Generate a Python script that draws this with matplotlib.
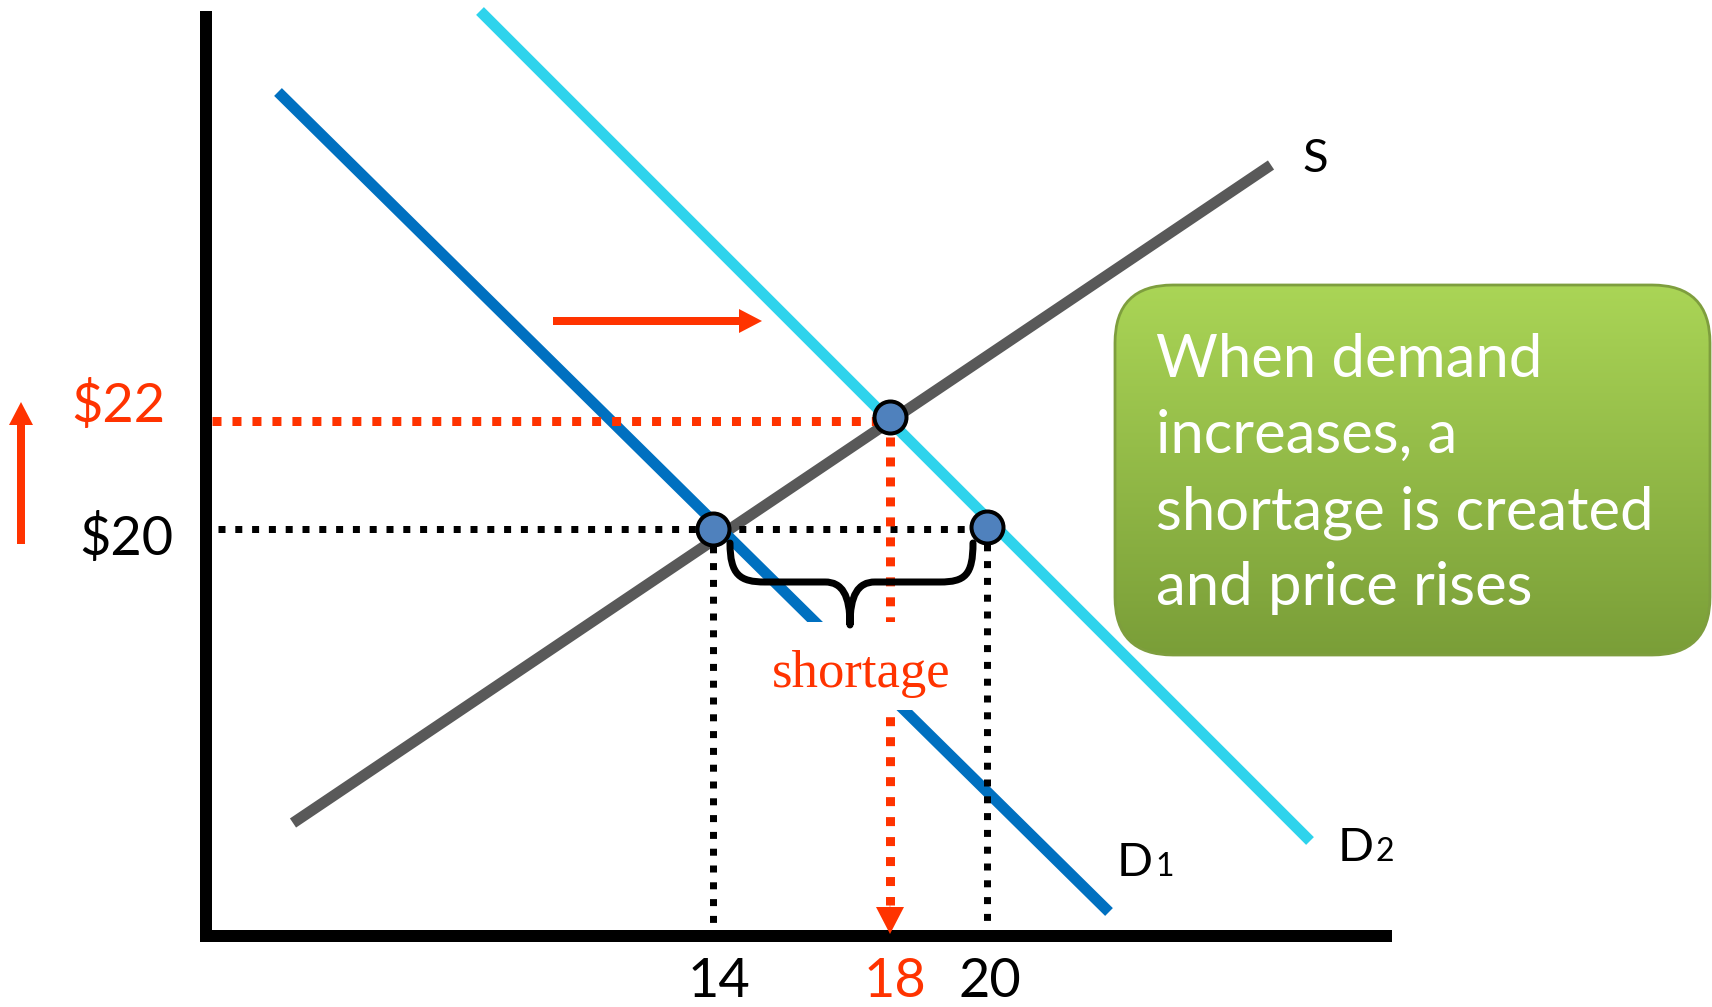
import matplotlib
matplotlib.use('Agg')
import numpy as np
import matplotlib.pyplot as plt
from matplotlib.patches import FancyBboxPatch, Rectangle, PathPatch
from matplotlib.path import Path

# everything is laid out in slide pixels (1712 x 1007, y downwards)
red = '#FF3300'
colors = {'S': '#595959', 'D1': '#0070C0', 'D2': '#2ED3EC'}

# curves: end points
s_x = [293, 1271]
s_y = [823, 165]
d1_x = [278, 1109]
d1_y = [92, 912]
d2_x = [480, 1310]
d2_y = [11, 841]

# equilibrium / quantity points
pt_x = [713, 890, 987]
pt_y = [529, 417, 527]

q_labels = ['14', '18', '20']
q_label_x = [719, 895, 990]
p_labels = ['$22', '$20']
p_label_x = [118, 126]
p_label_y = [422, 555]

note_lines = ['When demand', 'increases, a', 'shortage is created', 'and price rises']

FONT = ['Lato', 'DejaVu Sans']
plt.rcParams['font.family'] = FONT

fig = plt.figure(figsize=(17.12, 10.07), dpi=100)
ax = fig.add_axes([0, 0, 1, 1])
ax.set_xlim(0, 1712)
ax.set_ylim(1007, 0)
ax.axis('off')

px = 0.72  # points per pixel

# axes of the diagram
ax.plot([206, 206], [11, 942], color='black', lw=12 * px, solid_capstyle='butt', zorder=3)
ax.plot([200, 1392], [936, 936], color='black', lw=12 * px, solid_capstyle='butt', zorder=3)

# supply and demand curves
ax.plot(s_x, s_y, color=colors['S'], lw=11 * px, solid_capstyle='butt', zorder=2)
ax.plot(d1_x, d1_y, color=colors['D1'], lw=11 * px, solid_capstyle='butt', zorder=2)
ax.plot(d2_x, d2_y, color=colors['D2'], lw=11 * px, solid_capstyle='butt', zorder=2)

# dotted guides
blk = dict(color='black', lw=7 * px, linestyle=(0, (1, 1.4)), dash_capstyle='butt', zorder=4)
ax.plot([218, pt_x[2]], [pt_y[0], pt_y[0]], **blk)
ax.plot([pt_x[0], pt_x[0]], [pt_y[0], 930], **blk)
ax.plot([pt_x[2], pt_x[2]], [pt_y[2], 930], **blk)
rd = dict(color=red, lw=9 * px, linestyle=(0, (1, 1.22)), dash_capstyle='butt', zorder=4)
ax.plot([212, pt_x[1]], [421, 421], **rd)
ax.plot([pt_x[1], pt_x[1]], [pt_y[1], 905], **rd)
ax.arrow(pt_x[1], 900, 0, 34, width=0.5, head_width=28, head_length=27,
         length_includes_head=True, color=red, lw=0, zorder=5)

# shift arrows
ax.arrow(553, 321, 209, 0, width=8, head_width=24, head_length=23,
         length_includes_head=True, color=red, lw=0, zorder=5)
ax.arrow(21, 544, 0, -142, width=8, head_width=24, head_length=23,
         length_includes_head=True, color=red, lw=0, zorder=5)

# brace over the shortage
verts = [(730, 543), (730, 575), (740, 582), (765, 582),
         (825, 582),
         (842, 582), (850, 595), (850, 625),
         (850, 595), (858, 582), (875, 582),
         (940, 582),
         (965, 582), (973, 575), (973, 543)]
codes = [Path.MOVETO, Path.CURVE4, Path.CURVE4, Path.CURVE4,
         Path.LINETO,
         Path.CURVE4, Path.CURVE4, Path.CURVE4,
         Path.CURVE4, Path.CURVE4, Path.CURVE4,
         Path.LINETO,
         Path.CURVE4, Path.CURVE4, Path.CURVE4]
ax.add_patch(PathPatch(Path(verts, codes), facecolor='none', edgecolor='black',
                       lw=7 * px, capstyle='round', joinstyle='round', zorder=5))

ax.add_patch(Rectangle((768, 622), 187, 88, facecolor='white', edgecolor='none', zorder=4.5))
ax.text(861, 687, 'shortage', color=red, fontsize=38, family=['Liberation Serif', 'DejaVu Serif'],
        ha='center', va='baseline', zorder=6)

# points
ax.scatter(pt_x, pt_y, s=(32 * px) ** 2, color='#4F81BD', edgecolor='black',
           linewidth=4 * px, zorder=7)

# labels
for lab, x in zip(q_labels, q_label_x):
    ax.text(x, 997, lab, fontsize=39, ha='center', va='baseline',
            color=red if lab == '18' else 'black')
for lab, x, y in zip(p_labels, p_label_x, p_label_y):
    ax.text(x, y, lab, fontsize=39, ha='center', va='baseline',
            color=red if lab == '$22' else 'black')
ax.text(1315, 172, 'S', fontsize=34, ha='center', va='baseline')
ax.text(1153, 876, 'D', fontsize=34, ha='right', va='baseline')
ax.text(1155, 876, '1', fontsize=23, ha='left', va='baseline')
ax.text(1374, 861, 'D', fontsize=34, ha='right', va='baseline')
ax.text(1376, 861, '2', fontsize=23, ha='left', va='baseline')

# green note box with a vertical gradient
box = FancyBboxPatch((1115, 285), 595, 370, boxstyle='round,pad=0,rounding_size=58',
                     facecolor='none', edgecolor='#7E9E3E', lw=2, zorder=8)
ax.add_patch(box)
top = np.array([170, 213, 86]) / 255
bot = np.array([122, 158, 56]) / 255
t = np.linspace(0, 1, 256)[:, None, None]
grad = top * (1 - t) + bot * t
grad = np.repeat(grad, 2, axis=1)
im = ax.imshow(grad, extent=(1115, 1712, 655, 285), origin='upper', aspect='auto',
               interpolation='bilinear', zorder=7.5)
im.set_clip_path(box)
ax.set_xlim(0, 1712)
ax.set_ylim(1007, 0)

for i, line in enumerate(note_lines):
    ax.text(1156, 377 + i * 76, line, color='white', fontsize=43,
            ha='left', va='baseline', zorder=9)

fig.savefig('out.png', dpi=100)
